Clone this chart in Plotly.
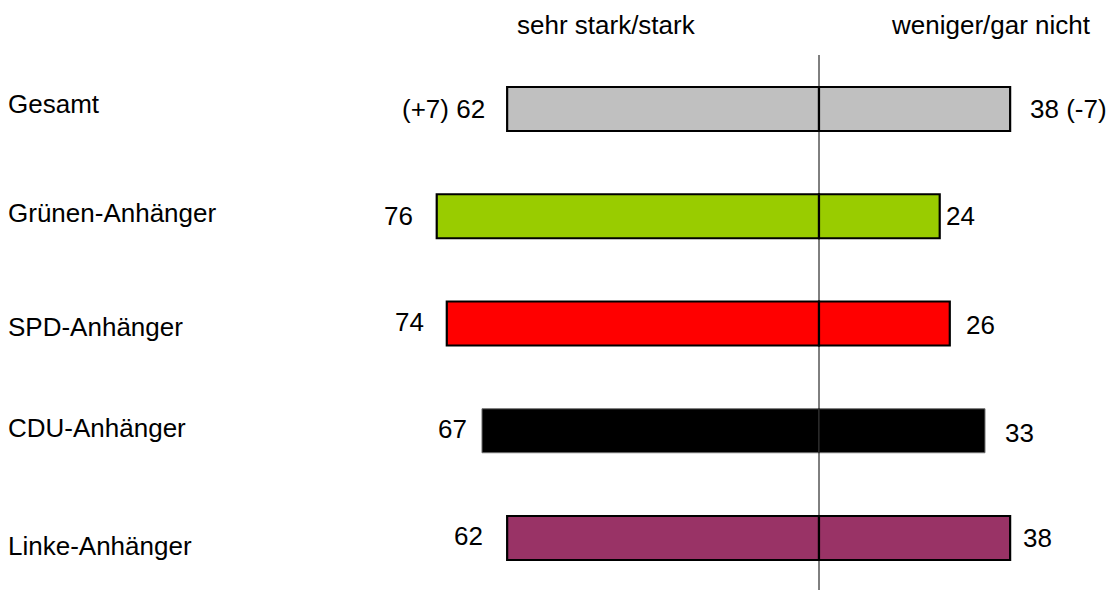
import plotly.graph_objects as go

categories = ["Gesamt", "Grünen-Anhänger", "SPD-Anhänger", "CDU-Anhänger", "Linke-Anhänger"]
strong = [62, 76, 74, 67, 62]          # sehr stark/stark
weak = [38, 24, 26, 33, 38]            # weniger/gar nicht
strong_change = ["+7", None, None, None, None]
weak_change = ["-7", None, None, None, None]
header_left = "sehr stark/stark"
header_right = "weniger/gar nicht"

# styling
bar_colors = ["#C0C0C0", "#99CC00", "#FF0000", "#000000", "#993366"]
line_colors = ["#000000", "#000000", "#000000", "#6E6E6E", "#000000"]
line_widths = [2.2, 2.2, 2.2, 1, 2.2]
left_gap = [20, 22, 21, 13, 22]
right_gap = [18, 4, 14, 18, 11]
left_dy = [0, 0, 2, 2, 2]
right_dy = [0, 0, -1, -2, 0]
cat_dy = [5, 3, -3, 3, -8]

FONT = "Liberation Sans, Arial, sans-serif"
FS = 26

idx = list(range(len(categories)))

fig = go.Figure()
fig.add_trace(go.Bar(
    y=idx, x=[-v for v in strong], orientation="h", base=0, width=0.41,
    marker=dict(color=bar_colors, line=dict(color=line_colors, width=line_widths)),
    showlegend=False, hoverinfo="skip"))
fig.add_trace(go.Bar(
    y=idx, x=weak, orientation="h", base=0, width=0.41,
    marker=dict(color=bar_colors, line=dict(color=line_colors, width=line_widths)),
    showlegend=False, hoverinfo="skip"))

ann = []
for i, c in enumerate(categories):
    ann.append(dict(x=6 / 1111, xref="paper", y=i, yref="y", text=c, showarrow=False,
                    xanchor="left", yanchor="middle", yshift=cat_dy[i],
                    font=dict(family=FONT, size=FS, color="#000000")))
    lt = f"({strong_change[i]}) {strong[i]}" if strong_change[i] else f"{strong[i]}"
    rt = f"{weak[i]} ({weak_change[i]})" if weak_change[i] else f"{weak[i]}"
    ann.append(dict(x=-strong[i], y=i, xref="x", yref="y", text=lt, showarrow=False,
                    xanchor="right", yanchor="middle", xshift=-left_gap[i], yshift=left_dy[i],
                    font=dict(family=FONT, size=FS, color="#000000")))
    ann.append(dict(x=weak[i], y=i, xref="x", yref="y", text=rt, showarrow=False,
                    xanchor="left", yanchor="middle", xshift=right_gap[i], yshift=right_dy[i],
                    font=dict(family=FONT, size=FS, color="#000000")))

ann.append(dict(x=606 / 1111, y=1 - 25 / 590, xref="paper", yref="paper", text=header_left,
                showarrow=False, xanchor="center", yanchor="middle",
                font=dict(family=FONT, size=FS, color="#000000")))
ann.append(dict(x=991 / 1111, y=1 - 25 / 590, xref="paper", yref="paper", text=header_right,
                showarrow=False, xanchor="center", yanchor="middle",
                font=dict(family=FONT, size=FS, color="#000000")))

fig.update_layout(
    width=1111, height=590,
    margin=dict(l=0, r=0, t=0, b=0),
    paper_bgcolor="white", plot_bgcolor="white",
    barmode="overlay",
    xaxis=dict(range=[-819 / 5.03, (1111 - 819) / 5.03], visible=False, fixedrange=True),
    yaxis=dict(range=[590 / 107.25 - 109 / 107.25, -109 / 107.25], visible=False, fixedrange=True),
    annotations=ann,
    shapes=[dict(type="line", xref="x", yref="paper", x0=0, x1=0,
                 y0=0, y1=1 - 55 / 590, line=dict(color="#000000", width=1), layer="above")],
)

fig.write_html("out.html", config={"displayModeBar": False},
               post_script="document.body.style.margin='0';")
